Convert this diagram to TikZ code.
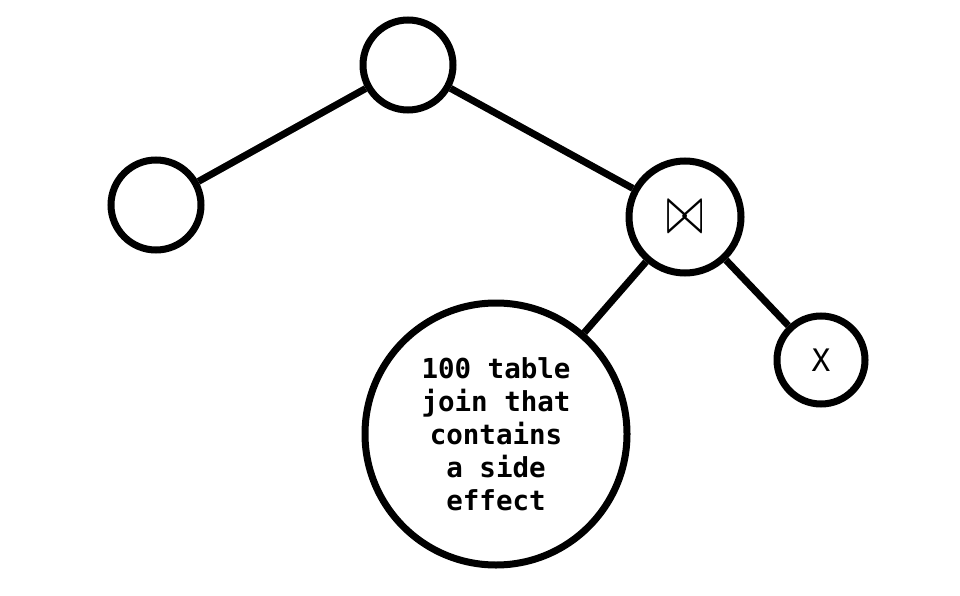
\documentclass[tikz,border=0pt]{standalone}
\usepackage{graphicx}
\usepackage{fontspec}
\setmonofont{DejaVu Sans Mono}
\begin{document}
\begin{tikzpicture}[x=1pt,y=-1pt,
  nd/.style={draw=black,line width=7pt,circle,inner sep=0pt,fill=white},
  edge/.style={draw=black,line width=7pt}]
\useasboundingbox (0,0) rectangle (960,596);
\node[nd,minimum size=90pt] (top) at (408,65) {};
\node[nd,minimum size=90pt] (left) at (156,205) {};
\node[nd,minimum size=112pt] (join) at (685,217) {\raisebox{-3pt}{\resizebox{37pt}{32pt}{$\bowtie$}}};
\node[nd,minimum size=88pt] (x) at (821,360) {\ttfamily\fontsize{31}{31}\selectfont X};
\node[nd,minimum size=262pt,align=center,font=\ttfamily\bfseries\fontsize{27.5}{33}\selectfont] (big) at (496,434) {100 table\\join that\\contains\\a side\\effect};
\draw[edge] (top) -- (left);
\draw[edge] (top) -- (join);
\draw[edge] (join) -- (big);
\draw[edge] (join) -- (x);
\end{tikzpicture}
\end{document}
